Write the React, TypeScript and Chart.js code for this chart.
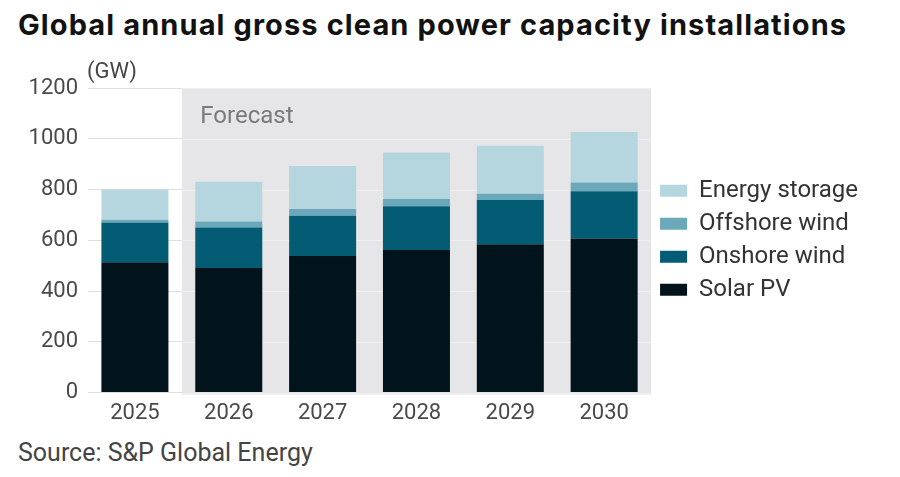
import React, { useEffect, useRef } from "react";
import { Chart, registerables } from "chart.js";

Chart.register(...registerables);

const categories = ["2025", "2026", "2027", "2028", "2029", "2030"];
const solarPV = [514, 491, 538, 562, 584, 607];
const onshoreWind = [156, 159, 159, 172, 175, 186];
const offshoreWind = [11, 24, 26, 29, 24, 35];
const energyStorage = [119, 157, 170, 183, 189, 199];

const FONT = "Roboto, 'Noto Sans', sans-serif";

const forecastBand = {
  id: "forecastBand",
  beforeDatasetsDraw(chart: any) {
    const { ctx, chartArea, scales } = chart;
    const x = scales.x;
    const y = scales.y;
    const left = (x.getPixelForValue(0) + x.getPixelForValue(1)) / 2;
    ctx.save();
    ctx.fillStyle = "#e6e6e8";
    ctx.fillRect(left, chartArea.top, chartArea.right - left, chartArea.bottom - chartArea.top + 2);
    ctx.strokeStyle = "#efeff1";
    ctx.lineWidth = 1;
    y.ticks.forEach((t: any) => {
      const py = Math.round(y.getPixelForValue(t.value)) + 0.5;
      ctx.beginPath();
      ctx.moveTo(left, py);
      ctx.lineTo(chartArea.right, py);
      ctx.stroke();
    });
    ctx.fillStyle = "#7a7a7a";
    ctx.font = `24px ${FONT}`;
    ctx.textBaseline = "alphabetic";
    ctx.textAlign = "left";
    ctx.fillText("Forecast", left + 18.5, chartArea.top + 35);
    ctx.fillStyle = "#444";
    ctx.font = `22px ${FONT}`;
    ctx.fillText("(GW)", chartArea.left - 1, chartArea.top - 10);
    ctx.restore();
  },
};

export default function App() {
  const ref = useRef<HTMLCanvasElement | null>(null);

  useEffect(() => {
    if (!ref.current) return;
    const chart = new Chart(ref.current, {
      type: "bar",
      data: {
        labels: categories,
        datasets: [
          { label: "Solar PV", data: solarPV, backgroundColor: "#02141b" },
          { label: "Onshore wind", data: onshoreWind, backgroundColor: "#035c74" },
          { label: "Offshore wind", data: offshoreWind, backgroundColor: "#6aa8ba" },
          { label: "Energy storage", data: energyStorage, backgroundColor: "#b5d6de" },
        ],
      },
      options: {
        animation: false,
        responsive: true,
        maintainAspectRatio: false,
        layout: { padding: { top: 38, right: 32, bottom: 0, left: 0 } },
        datasets: {
          bar: { categoryPercentage: 1, barPercentage: 0.714, borderWidth: 0 },
        },
        scales: {
          x: {
            stacked: true,
            grid: { display: false, drawTicks: false },
            border: { display: false },
            ticks: { color: "#4a4a4a", font: { family: FONT, size: 22 }, padding: 8 },
          },
          y: {
            stacked: true,
            min: 0,
            max: 1200,
            ticks: {
              stepSize: 200,
              color: "#4a4a4a",
              font: { family: FONT, size: 22 },
              padding: 10,
              callback: (v: any) => String(v),
            },
            grid: { color: "#dedede", drawTicks: false },
            border: { display: false },
            afterFit(scale: any) {
              scale.width = 88;
            },
          },
        },
        plugins: {
          legend: {
            position: "right",
            fullSize: false,
            reverse: true,
            labels: {
              boxWidth: 27,
              boxHeight: 12,
              padding: 9,
              color: "#333",
              font: { family: FONT, size: 24 },
            },
          },
          tooltip: { enabled: false },
          title: { display: false },
        },
      },
      plugins: [forecastBand],
    });
    return () => chart.destroy();
  }, []);

  return (
    <div style={{ position: "fixed", left: 0, top: 0, width: 900, height: 477, background: "#fff", fontFamily: FONT }}>
      <div
        style={{
          position: "absolute",
          left: 18,
          top: 10,
          fontFamily: "Inter, Roboto, sans-serif",
          fontSize: 29,
          lineHeight: 1,
          fontWeight: 700,
          letterSpacing: 1.1,
          color: "#121212",
          whiteSpace: "nowrap",
        }}
      >
        Global annual gross clean power capacity installations
      </div>
      <div style={{ position: "absolute", left: 0, top: 50, width: 900, height: 385 }}>
        <canvas ref={ref} />
      </div>
      <div
        style={{
          position: "absolute",
          left: 18,
          top: 440,
          fontSize: 25,
          lineHeight: 1,
          color: "#444",
          whiteSpace: "nowrap",
        }}
      >
        Source: S&amp;P Global Energy
      </div>
    </div>
  );
}
